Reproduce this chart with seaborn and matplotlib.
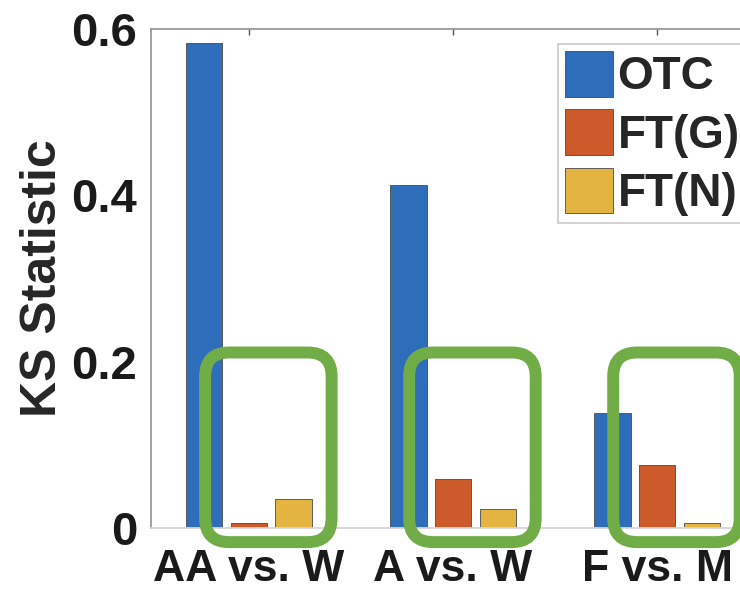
import matplotlib
matplotlib.use("Agg")
import matplotlib.pyplot as plt
from matplotlib.patches import FancyBboxPatch
from matplotlib.transforms import IdentityTransform
import numpy as np
import pandas as pd
import seaborn as sns

# KS statistic per demographic pair and method
pairs = ["AA vs. W", "A vs. W", "F vs. M"]
methods = ["OTC", "FT(G)", "FT(N)"]
otc = [0.583, 0.412, 0.138]
ft_g = [0.006, 0.059, 0.076]
ft_n = [0.035, 0.023, 0.006]
yticks = [0, 0.2, 0.4, 0.6]
ytick_labels = ["0", "0.2", "0.4", "0.6"]

colors = ["#2E6DB9", "#CC5A2A", "#E4B442"]
highlight = "#70AD47"

df = pd.DataFrame({
    "pair": pairs * 3,
    "method": [m for m in methods for _ in pairs],
    "ks": otc + ft_g + ft_n,
})

sns.set_style("white")
plt.rcParams["font.family"] = ["Liberation Sans", "DejaVu Sans"]
plt.rcParams["font.weight"] = "bold"

fig = plt.figure(figsize=(7.4, 5.89), dpi=100)
ax = fig.add_axes([0.2041, 0.1036, 0.8162, 0.8472])

sns.barplot(data=df, x="pair", y="ks", hue="method", order=pairs,
            hue_order=methods, palette=colors, saturation=1, width=0.66,
            gap=0.18, errorbar=None, edgecolor="#4a4a4a", linewidth=0.6,
            ax=ax)

ax.set_xlim(-0.48, 2.48)
ax.set_ylim(0, 0.6)
ax.set_yticks(yticks)
ax.set_yticklabels(ytick_labels)
ax.set_xlabel("")
ax.set_ylabel("KS Statistic", fontsize=36, fontweight="bold", labelpad=4)

ax.tick_params(axis="both", direction="in", length=4, width=1,
               color="#555555", labelsize=32, top=True, right=True)
ax.tick_params(axis="y", pad=10, labelsize=34)
ax.tick_params(axis="x", pad=15)
for lab in ax.get_xticklabels() + ax.get_yticklabels():
    lab.set_fontweight("bold")
    lab.set_color("#1a1a1a")

for side in ["top", "left", "right"]:
    ax.spines[side].set_color("#9a9a9a")
    ax.spines[side].set_linewidth(1.3)
ax.spines["bottom"].set_color("#d6d6d6")
ax.spines["bottom"].set_linewidth(1.3)

handles, labels = ax.get_legend_handles_labels()
leg = ax.legend(handles, labels, loc="upper left",
                bbox_to_anchor=(0.754, 0.925), bbox_transform=fig.transFigure,
                borderaxespad=0, fontsize=33, frameon=True, fancybox=False,
                handlelength=1.05, handleheight=1.15, handletextpad=0.1,
                labelspacing=0.22, borderpad=0.15)
leg.get_frame().set_edgecolor("#bdbdbd")
leg.get_frame().set_linewidth(1.2)
for t in leg.get_texts():
    t.set_fontweight("bold")

# Rounded boxes around the FT bars of each pair
fig.canvas.draw()
half_w = 0.31
y_lo, y_hi = -0.017, 0.211
for i in range(len(pairs)):
    cx = i + 0.095
    (x0, y0) = ax.transData.transform((cx - half_w, y_lo))
    (x1, y1) = ax.transData.transform((cx + half_w, y_hi))
    box = FancyBboxPatch((x0, y0), x1 - x0, y1 - y0,
                         boxstyle="round,pad=0,rounding_size=24",
                         transform=IdentityTransform(), fill=False,
                         edgecolor=highlight, linewidth=8.6, clip_on=False,
                         zorder=10)
    fig.add_artist(box)

fig.savefig("out.png", dpi=100)
